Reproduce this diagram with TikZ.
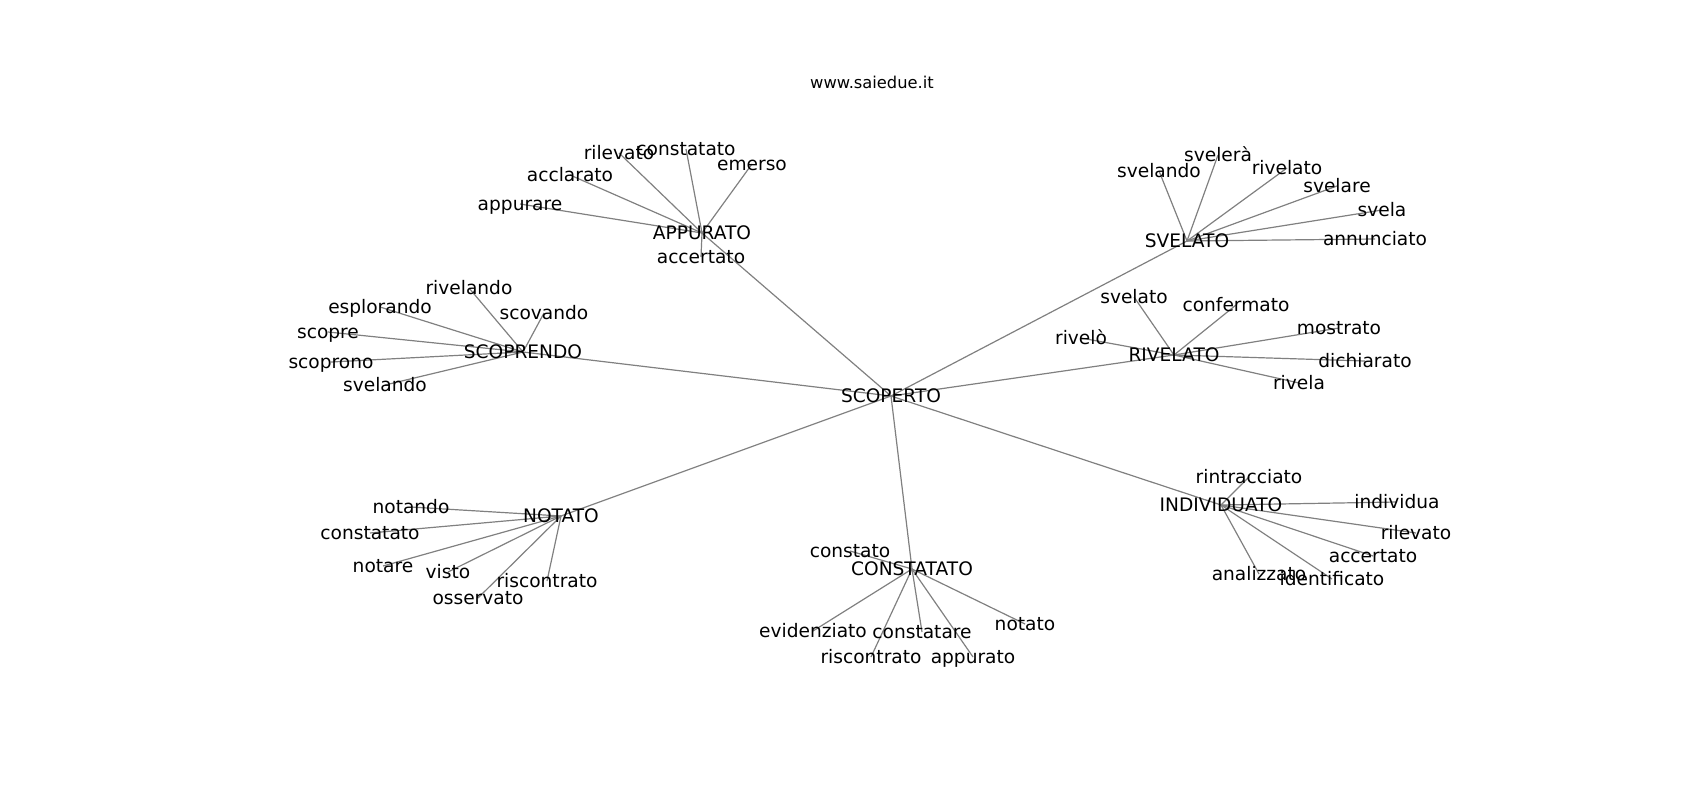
\documentclass[tikz,border=0pt]{standalone}
\usepackage{fontspec}
\setmainfont{DejaVu Sans}
\usepackage{tikz}
\usetikzlibrary{backgrounds}
\tikzset{
  word/.style={inner sep=0pt, text height=1.2em, text depth=0pt, font=\fontsize{18.6}{22}\selectfont},
  link/.style={draw=black!50, line width=1.2pt}
}

\begin{document}
\begin{tikzpicture}[x=1pt,y=-1pt]
\useasboundingbox (0,0) rectangle (1700,800);
\node[inner sep=0pt, font=\fontsize{16.3}{19}\selectfont] (title) at (872,82) {www.saiedue.it};
% centro e gruppi
\node[word] (scoperto) at (891,396) {SCOPERTO};
\node[word] (appurato) at (702,233) {APPURATO};
\node[word] (svelato) at (1187,241) {SVELATO};
\node[word] (scoprendo) at (523,352) {SCOPRENDO};
\node[word] (rivelato) at (1174,355) {RIVELATO};
\node[word] (notato) at (561,516) {NOTATO};
\node[word] (constatato) at (912,569) {CONSTATATO};
\node[word] (individuato) at (1221,505) {INDIVIDUATO};
% APPURATO
\node[word] (a1) at (619,153) {rilevato};
\node[word] (a2) at (686,149) {constatato};
\node[word] (a3) at (752,164) {emerso};
\node[word] (a4) at (570,175) {acclarato};
\node[word] (a5) at (520,204) {appurare};
\node[word] (a6) at (701,257) {accertato};
% SVELATO
\node[word] (b1) at (1159,171) {svelando};
\node[word] (b2) at (1218,155) {svelerà};
\node[word] (b3) at (1287,168) {rivelato};
\node[word] (b4) at (1337,186) {svelare};
\node[word] (b5) at (1382,210) {svela};
\node[word] (b6) at (1375,239) {annunciato};
% SCOPRENDO
\node[word] (c1) at (469,288) {rivelando};
\node[word] (c2) at (380,307) {esplorando};
\node[word] (c3) at (544,313) {scovando};
\node[word] (c4) at (328,332) {scopre};
\node[word] (c5) at (331,362) {scoprono};
\node[word] (c6) at (385,385) {svelando};
% RIVELATO
\node[word] (d1) at (1134,297) {svelato};
\node[word] (d2) at (1236,305) {confermato};
\node[word] (d3) at (1081,338) {rivelò};
\node[word] (d4) at (1339,328) {mostrato};
\node[word] (d5) at (1365,361) {dichiarato};
\node[word] (d6) at (1299,383) {rivela};
% NOTATO
\node[word] (e1) at (411,507) {notando};
\node[word] (e2) at (370,533) {constatato};
\node[word] (e3) at (383,566) {notare};
\node[word] (e4) at (448,572) {visto};
\node[word] (e5) at (547,581) {riscontrato};
\node[word] (e6) at (478,598) {osservato};
% CONSTATATO
\node[word] (f1) at (850,551) {constato};
\node[word] (f2) at (813,631) {evidenziato};
\node[word] (f3) at (922,632) {constatare};
\node[word] (f4) at (1025,624) {notato};
\node[word] (f5) at (871,657) {riscontrato};
\node[word] (f6) at (973,657) {appurato};
% INDIVIDUATO
\node[word] (g1) at (1249,477) {rintracciato};
\node[word] (g2) at (1397,502) {individua};
\node[word] (g3) at (1416,533) {rilevato};
\node[word] (g4) at (1373,556) {accertato};
\node[word] (g5) at (1332,579) {identificato};
\node[word] (g6) at (1259,574) {analizzato};
\begin{scope}[on background layer]
\foreach \hub in {appurato,svelato,scoprendo,rivelato,notato,constatato,individuato}
  \draw[link] (scoperto.center) -- (\hub.center);
\foreach \leaf in {a1,a2,a3,a4,a5,a6}
  \draw[link] (appurato.center) -- (\leaf.center);
\foreach \leaf in {b1,b2,b3,b4,b5,b6}
  \draw[link] (svelato.center) -- (\leaf.center);
\foreach \leaf in {c1,c2,c3,c4,c5,c6}
  \draw[link] (scoprendo.center) -- (\leaf.center);
\foreach \leaf in {d1,d2,d3,d4,d5,d6}
  \draw[link] (rivelato.center) -- (\leaf.center);
\foreach \leaf in {e1,e2,e3,e4,e5,e6}
  \draw[link] (notato.center) -- (\leaf.center);
\foreach \leaf in {f1,f2,f3,f4,f5,f6}
  \draw[link] (constatato.center) -- (\leaf.center);
\foreach \leaf in {g1,g2,g3,g4,g5,g6}
  \draw[link] (individuato.center) -- (\leaf.center);
\end{scope}
\end{tikzpicture}
\end{document}
